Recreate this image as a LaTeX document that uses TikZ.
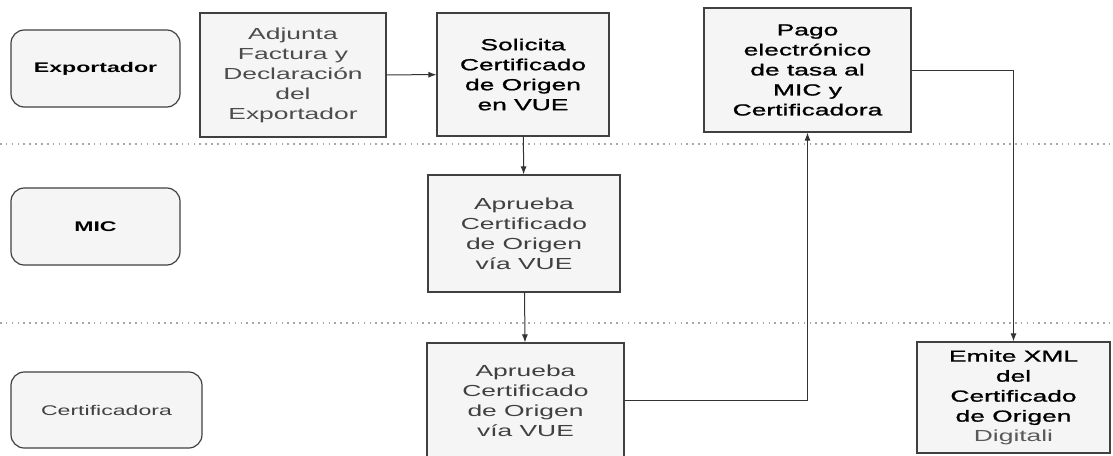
\documentclass[tikz,border=0pt]{standalone}
\usepackage{fontspec}
\setmainfont{Liberation Sans}[FakeStretch=1.65]
\newfontfamily\heavyfont{Liberation Sans}[FakeStretch=1.65,FakeBold=1.2]
\usepackage{tikz}
\usetikzlibrary{arrows.meta}

\begin{document}
\begin{tikzpicture}[x=0.75pt,y=-0.75pt,>={Latex[length=6pt,width=4.5pt]}]
       \tikzset{lane/.style={rectangle, rounded corners=10pt, draw=black!75, line width=0.9pt,
                fill=black!4, align=center, inner sep=0pt, font=\fontsize{10.5}{13}\selectfont}}

       \tikzset{activity/.style={rectangle, draw=black!75, line width=0.9pt, fill=blue!2!black!4,
                align=center, inner sep=0pt, text=black!85, font=\fontsize{12}{15}\selectfont}}

       \tikzset{sep/.style={draw=black!35, line width=0.8pt, dash pattern=on 1.2pt off 3.2pt}}

       \useasboundingbox (0,0) rectangle (1113,455);

       % swimlanes
       \coordinate (sepA1) at (0,144);
       \coordinate (sepA2) at (1113,144);
       \coordinate (sepB1) at (0,323);
       \coordinate (sepB2) at (1113,323);
       \draw[sep] (sepA1) -- (sepA2);
       \draw[sep] (sepB1) -- (sepB2);

       \node[lane, minimum width=126.75pt, minimum height=57.75pt] (exportador) at (95.5,68.5) {\bfseries Exportador};
       \node[lane, minimum width=126.75pt, minimum height=57.75pt] (mic) at (95.5,226.5) {\bfseries MIC};
       \node[lane, minimum width=143.25pt, minimum height=57pt, text=black!75] (certificadora) at (106.5,410) {Certificadora};

       \node[activity, minimum width=139.5pt, minimum height=93pt, text=black!70] (adjunta) at (293,75)
            {Adjunta\\Factura y\\Declaración\\del\\Exportador};
       \node[activity, minimum width=129pt, minimum height=92.25pt, text=black] (solicita) at (523,74.5)
            {\heavyfont Solicita\\\heavyfont Certificado\\\heavyfont de Origen\\\heavyfont en VUE};
       \node[activity, minimum width=144pt, minimum height=87.75pt, text=black!75] (apruebaMIC) at (524,233.5)
            {Aprueba\\Certificado\\de Origen\\vía VUE};
       \node[activity, minimum width=147.75pt, minimum height=86.25pt, text=black!75] (apruebaCert) at (525.5,400.5)
            {Aprueba\\Certificado\\de Origen\\vía VUE};
       \node[activity, minimum width=155.25pt, minimum height=93pt, text=black] (pago) at (807.5,70)
            {\heavyfont Pago\\\heavyfont electrónico\\\heavyfont de tasa al\\\heavyfont MIC y\\\heavyfont Certificadora};
       \node[activity, minimum width=144.75pt, minimum height=83.25pt, text=black] (emite) at (1013.5,397.5)
            {\heavyfont Emite XML\\\heavyfont del\\\heavyfont Certificado\\\heavyfont de Origen\\{\color{black!65}Digitali}};

       \draw[->, line width=0.75pt, black!80](adjunta) -- (solicita);
       \draw[->, line width=0.75pt, black!80](solicita) -- (apruebaMIC);
       \draw[->, line width=0.75pt, black!80](apruebaMIC) -- (apruebaCert);
       \draw[->, line width=0.75pt, black!80](apruebaCert.east) -| (pago.south);
       \draw[->, line width=0.75pt, black!80](pago.east) -| (emite.north);

\end{tikzpicture}
\end{document}
